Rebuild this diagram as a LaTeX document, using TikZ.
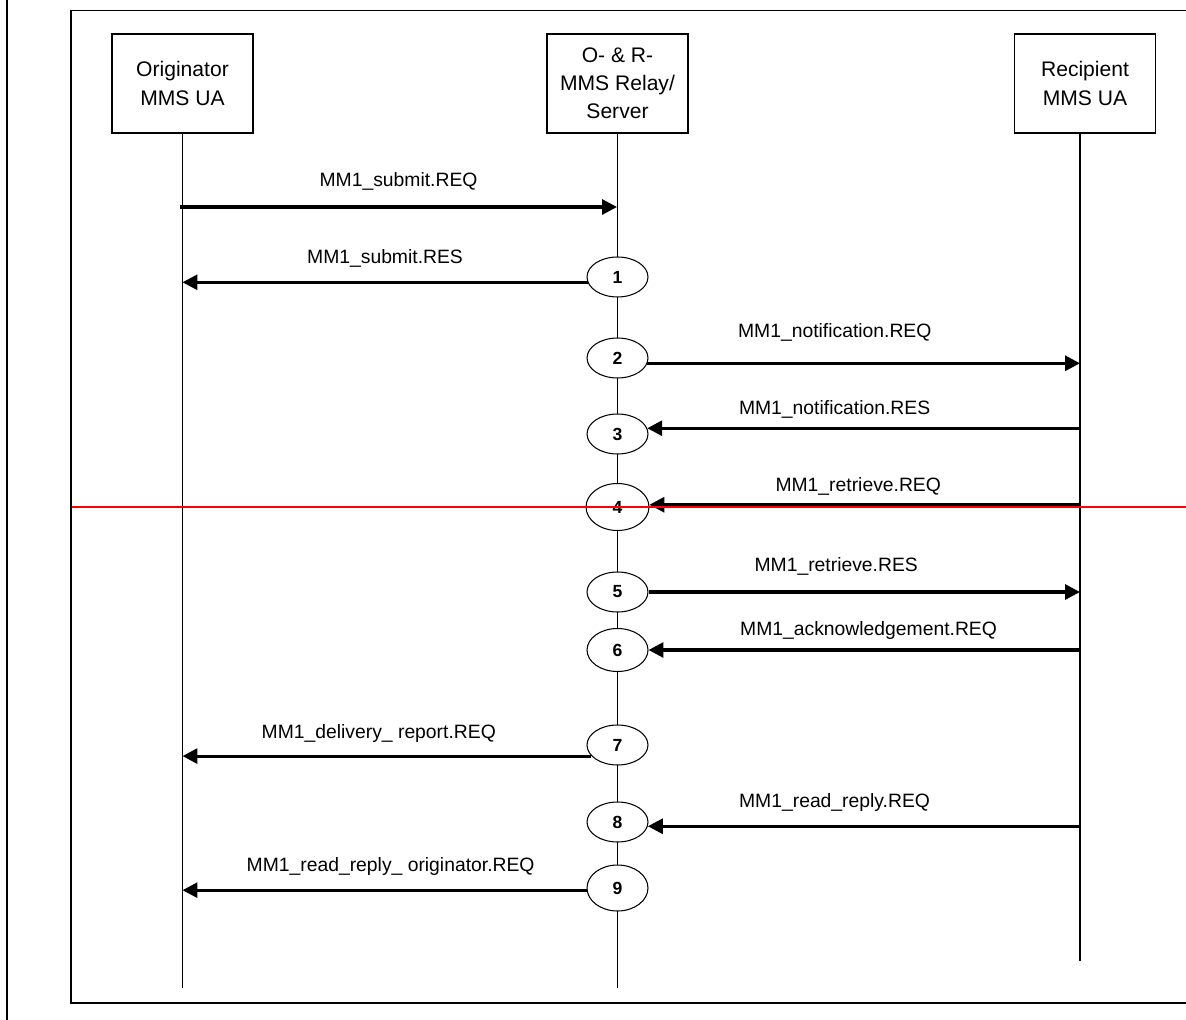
\documentclass[tikz,border=0pt]{standalone}
\usepackage{fontspec}
\setmainfont{Liberation Sans}
\usetikzlibrary{arrows.meta,shapes.geometric}
\tikzset{
  entity/.style={draw, line width=0.6pt, minimum width=2.82cm, minimum height=1.98cm,
    align=center, font=\fontsize{12}{16}\selectfont},
  stepnode/.style={draw, ellipse, line width=0.6pt, fill=white, inner sep=0pt,
    minimum width=1.22cm, minimum height=0.8cm, font=\fontsize{10}{12}\selectfont\bfseries},
  msg/.style={line width=1.8pt, -{Triangle[length=8.5pt,width=8.5pt]}},
  lbl/.style={anchor=base, inner sep=0pt, yshift=10.8pt, font=\fontsize{11}{13}\selectfont},
  lifeline/.style={line width=0.6pt}
}

\begin{document}
\begin{tikzpicture}[x=0.02cm, y=-0.02cm]
			%%%%% START %%%%%
			\useasboundingbox (0,0) rectangle (1186,1020);
			
			\draw[line width=1.6pt] (7,0) -- (7,1020);
			\draw[line width=0.9pt] (1186,10.5) -- (71,10.5) -- (71,1003) -- (1186,1003);
			\draw[line width=1.3pt] (71,10.5) -- (71,1003);
			
			\node[entity] (orig) at (182.5,83.5) {Originator\\MMS UA};
			\node[entity] (srv) at (617.5,83.5) {O- \& R-\\MMS Relay/\\Server};
			\node[entity] (rcpt) at (1085,83.5) {Recipient\\MMS UA};
			
			\coordinate (origEnd) at (182.5,988);
			\coordinate (srvEnd) at (617.5,988);
			\coordinate (rcptTop) at (1080,133);
			\coordinate (rcptEnd) at (1080,961);
			\draw[lifeline] (orig.south) -- (origEnd);
			\draw[lifeline] (srv.south) -- (srvEnd);
			\draw[lifeline] (rcptTop) -- (rcptEnd);
			
			\node[stepnode] (s1) at (617.5,277) {1};
			\node[stepnode] (s2) at (617.5,358) {2};
			\node[stepnode] (s3) at (617.5,434) {3};
			\node[stepnode, minimum width=1.26cm, minimum height=0.94cm] (s4) at (617.5,507) {4};
			\node[stepnode] (s5) at (617.5,592) {5};
			\node[stepnode, minimum height=0.86cm] (s6) at (617.5,650) {6};
			\node[stepnode] (s7) at (617.5,745) {7};
			\node[stepnode] (s8) at (617.5,822) {8};
			\node[stepnode, minimum height=0.92cm] (s9) at (617.5,888) {9};
			
			\coordinate (m1a) at (180,207);
			\coordinate (m1b) at (617,207);
			\draw[msg] (m1a) -- node[lbl, yshift=1.1pt] {MM1\_submit.REQ} (m1b);
			\draw[msg] (s1.190) -- node[lbl] {MM1\_submit.RES} (orig.south |- s1.190);
			
			\draw[msg] (s2.350) -- node[lbl, pos=0.433, yshift=3.9pt] {MM1\_notification.REQ} (rcptTop |- s2.350);
			\draw[msg] (rcptTop |- s3.11) -- node[lbl, pos=0.567, yshift=-2.9pt] {MM1\_notification.RES} (s3.11);
			\draw[msg] (rcptTop |- s4.4) -- node[lbl, pos=0.515, yshift=-3.4pt] {MM1\_retrieve.REQ} (s4.4);
			\draw[msg] (s5.east) -- node[lbl, pos=0.435, yshift=1.1pt] {MM1\_retrieve.RES} (rcptTop |- s5.east);
			\draw[msg] (rcptTop |- s6.east) -- node[lbl, pos=0.49, yshift=-2.3pt] {MM1\_acknowledgement.REQ} (s6.east);
			
			\draw[msg] (s7.203) -- node[lbl, pos=0.52, yshift=-0.6pt] {MM1\_delivery\_ report.REQ} (orig.south |- s7.203);
			\draw[msg] (rcptTop |- s8.352) -- node[lbl, pos=0.568] {MM1\_read\_reply.REQ} (s8.352);
			\draw[msg] (s9.184) -- node[lbl, pos=0.485] {MM1\_read\_reply\_ originator.REQ} (orig.south |- s9.184);
			
			\draw[red, line width=0.6pt] (72,507) -- (1186,507);
			
			%%%%% END %%%%%
\end{tikzpicture}
\end{document}
